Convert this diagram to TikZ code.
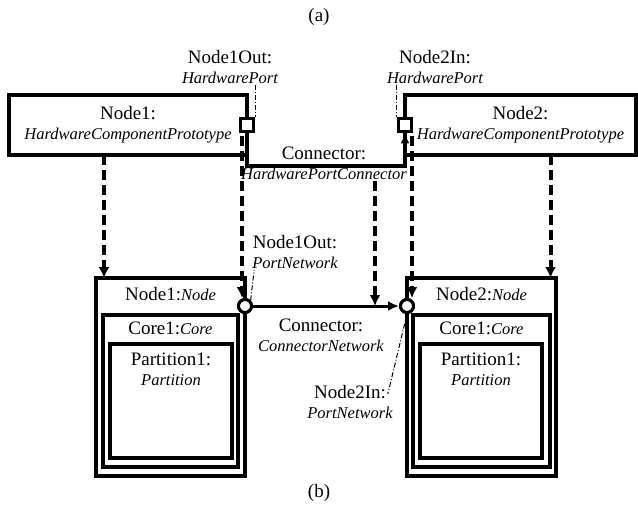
\documentclass[tikz,border=0pt]{standalone}
\usepackage{fontspec}
\setmainfont{Liberation Serif}
\usetikzlibrary{arrows.meta,calc,positioning}

% type names are set smaller and in italics
\newcommand{\tname}[1]{{\fontsize{16.5}{20}\selectfont\itshape #1}}

\tikzset{
  txt/.style={font=\fontsize{19}{20}\selectfont,align=center,inner sep=1pt},
  hwbox/.style={draw,line width=4.5pt,outer sep=0pt},
  box/.style={draw,line width=4.5pt,outer sep=0pt,inner sep=0pt},
  port/.style={draw,fill=white,line width=3.5pt,minimum size=13pt,inner sep=0pt},
  portnet/.style={circle,draw,fill=white,line width=3pt,minimum size=13pt,inner sep=0pt},
  hwlink/.style={line width=4pt,-{Latex[length=10pt,width=9pt]}},
  netlink/.style={line width=3pt,-{Latex[length=11pt,width=10pt]}},
  realize/.style={line width=4pt,dash pattern=on 10pt off 5pt,-{Latex[length=11pt,width=11pt]}},
  leader/.style={line width=1pt,dash pattern=on 5pt off 2pt on 1pt off 2pt}
}

\begin{document}
\begin{tikzpicture}[x=1pt,y=-1pt]
\useasboundingbox (0,0) rectangle (638,509);
\node[txt] (capa) at (319,17) {(a)};
\node[txt] (capb) at (319,493) {(b)};

% hardware components
\node[txt,hwbox,minimum width=238pt,minimum height=60pt] (hw1) at (128,125) {Node1:\\\tname{HardwareComponentPrototype}};
\node[txt,hwbox,minimum width=231pt,minimum height=60pt] (hw2) at (520.5,125) {Node2:\\\tname{HardwareComponentPrototype}};
\node[txt] (p1l) at (230,67) {Node1Out:\\\tname{HardwarePort}};
\node[txt] (p2l) at (435,67) {Node2In:\\\tname{HardwarePort}};
\node[txt] (hwc) at (324,163) {Connector:\\\tname{HardwarePortConnector}};

% nodes, cores and partitions
\node[box,minimum width=149pt,minimum height=198pt] (nd1) at (170.5,377) {};
\node[box,minimum width=135pt,minimum height=152pt] (core1) at (170.5,391) {};
\node[box,minimum width=122pt,minimum height=114pt] (part1) at (171,401) {};
\node[txt,below=8pt of nd1.north] (nd1l) {Node1:\tname{Node}};
\node[txt,below=6pt of core1.north] (core1l) {Core1:\tname{Core}};
\node[txt,below=8pt of part1.north] (part1l) {Partition1:\\\tname{Partition}};

\node[box,minimum width=149pt,minimum height=198pt] (nd2) at (481.5,377) {};
\node[box,minimum width=137pt,minimum height=152pt] (core2) at (481.5,391) {};
\node[box,minimum width=122pt,minimum height=114pt] (part2) at (481,401) {};
\node[txt,below=8pt of nd2.north] (nd2l) {Node2:\tname{Node}};
\node[txt,below=6pt of core2.north] (core2l) {Core1:\tname{Core}};
\node[txt,below=8pt of part2.north] (part2l) {Partition1:\\\tname{Partition}};

\node[txt] (pn1l) at (295,252) {Node1Out:\\\tname{PortNetwork}};
\node[txt] (pn2l) at (350,402) {Node2In:\\\tname{PortNetwork}};
\node[txt] (ncl) at (321,335) {Connector:\\\tname{ConnectorNetwork}};

% ports sit on the box borders
\node[port] (p1) at (hw1.east) {};
\node[port] (p2) at (hw2.west) {};
\node[portnet] (pn1) at ([yshift=-28pt]nd1.north east) {};
\node[portnet] (pn2) at ([yshift=-28pt]nd2.north west) {};

% realization arrows
\coordinate (r1) at ([xshift=-24pt]hw1.south);
\coordinate (r2) at ([xshift=-5pt,yshift=-3pt]p1.south);
\coordinate (r3) at ([xshift=51pt]hwc.south);
\coordinate (r4) at ([xshift=7pt,yshift=-3pt]p2.south);
\coordinate (r5) at ([xshift=30pt]hw2.south);
\draw[realize] (r1) -- (r1 |- nd1.north);
\draw[realize] (r2) -- (r2 |- pn1.north);
\draw[realize] (r3) -- (r3 |- pn2);
\draw[realize] (r4) -- (r4 |- pn2.north);
\draw[realize] (r5) -- (r5 |- nd2.north);

% connectors
\draw[hwlink] (p1.south) -- ++(0,33) -| (p2.south);
\draw[netlink] (pn1) -- (pn2);
\node[port] at (p1) {};
\node[portnet] at (pn1) {};
\node[portnet] at (pn2) {};

% leaders from labels to ports
\draw[leader] (p1l.south -| p1.east) -- (p1.north east);
\draw[leader] (p2l.south -| p2.west) -- (p2.north west);
\draw[leader] (pn1.north east) -- ([xshift=3pt]pn1l.south west);
\draw[leader] (pn2.south) -- ([xshift=-6pt,yshift=8pt]pn2l.east);
\end{tikzpicture}
\end{document}
